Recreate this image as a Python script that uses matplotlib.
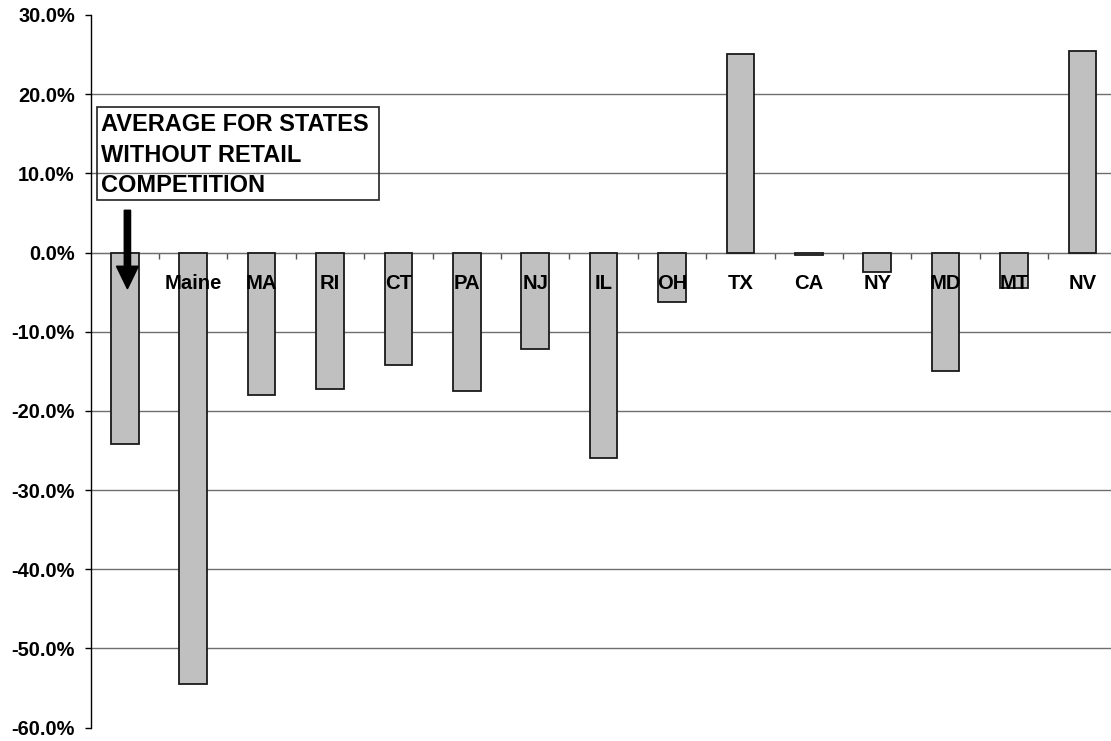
import matplotlib
matplotlib.use("Agg")
import matplotlib.pyplot as plt
from matplotlib.patches import Rectangle, FancyArrow
from matplotlib.ticker import FuncFormatter

plt.rcParams['font.family'] = ['Liberation Sans', 'DejaVu Sans']
plt.rcParams['font.weight'] = 'bold'

# change in price, % (first bar = average for states without retail competition)
states = ["", "Maine", "MA", "RI", "CT", "PA", "NJ", "IL", "OH", "TX", "CA", "NY", "MD", "MT", "NV"]
change = [-24.2, -54.5, -18.0, -17.2, -14.2, -17.5, -12.2, -25.9, -6.3, 25.1, -0.3, -2.4, -14.9, -4.5, 25.4]
y_ticks = [30, 20, 10, 0, -10, -20, -30, -40, -50, -60]

fig = plt.figure(figsize=(11.11, 7.41), dpi=100)
ax = fig.add_axes([0.0815, 0.018, 0.9185, 0.9618])

x = list(range(len(states)))
ax.bar(x, change, width=0.405, color='#C0C0C0', edgecolor='#1a1a1a', linewidth=1.3, zorder=3)

ax.set_xlim(-0.5, 14.418)
ax.set_ylim(-60, 30)

# horizontal grid, not at the axis limits
for v in y_ticks[1:-1]:
    ax.axhline(v, color='#6e6e6e', linewidth=1.0, zorder=1)

ax.set_yticks(y_ticks)
ax.yaxis.set_major_formatter(FuncFormatter(lambda v, p: f"{v:.1f}%"))
ax.tick_params(axis='y', direction='out', length=4.3, width=1, color='black',
               pad=7, labelsize=14.4)
for lab in ax.get_yticklabels():
    lab.set_fontweight('bold')

for s in ['top', 'right', 'bottom']:
    ax.spines[s].set_visible(False)
ax.spines['left'].set_linewidth(1.0)

# category axis sits on the zero line, tick marks between categories
ax.set_xticks([i + 0.5 for i in x[:-1]])
ax.set_xticklabels([])
ax.tick_params(axis='x', direction='out', length=4.3, width=1, color='#555555')
ax.spines['bottom'].set_visible(True)
ax.spines['bottom'].set_position(('data', 0))
ax.spines['bottom'].set_color('#6e6e6e')
ax.spines['bottom'].set_zorder(2)

for i, name in enumerate(states):
    ax.text(i, -3.95, name, ha='center', va='center', fontsize=14.6,
            fontweight='bold', zorder=5)

# note box and arrow pointing to the average bar
ax.add_patch(Rectangle((-0.411, 6.65), 4.127, 11.78, fill=False,
                       edgecolor='#222222', linewidth=1.2, zorder=4, clip_on=False))
ax.text(-0.34, 17.6, "AVERAGE FOR STATES\nWITHOUT RETAIL\nCOMPETITION",
        ha='left', va='top', fontsize=17, fontweight='bold',
        linespacing=1.42, zorder=5)
ax.add_patch(FancyArrow(0.039, 5.34, 0, -9.92, width=0.092, head_width=0.32,
                        head_length=2.85, length_includes_head=True,
                        color='black', zorder=6))

fig.savefig("out.png", dpi=100)
